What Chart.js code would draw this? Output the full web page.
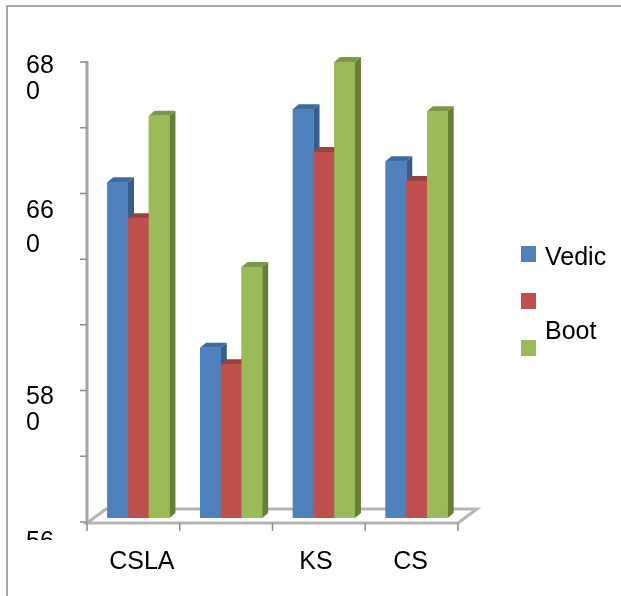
<!DOCTYPE html>
<html>
<head>
<meta charset="utf-8">
<title>Chart</title>
<script src="https://cdn.jsdelivr.net/npm/chart.js@4/dist/chart.umd.min.js"></script>
<style>
    html, body { margin: 0; padding: 0; background: #fff; }
    canvas { display: block; }
</style>
</head>
<body>
<canvas id="barChart" width="621" height="596"></canvas>
<script>
const categories = ['CSLA', '', 'KS', 'CS'];
const seriesNames = ['Vedic', '', 'Boot'];
const vedic = [661.1, 635.9, 672.2, 664.3];
const middle = [655.6, 633.4, 665.7, 661.3];
const boot = [671.2, 648.2, 679.4, 671.9];

// the picture's axis is not even: 680 and 660 are two ticks apart, so are 580 and 560,
// but 660 to 580 is only three ticks. Values are read at 10 per tick from the top.
const yTicks = [680, 670, 660, 650, 640, 630, 620, 610];
const yLabels = { 680: ['68', '0'], 660: ['66', '0'], 630: ['58', '0'], 610: ['56', '0'] };

const FONT = '25px "Liberation Sans"';
const faceColors = ['#4F81BD', '#C0504D', '#9BBB59'];
const sideColors = ['#385D8A', '#8E3B39', '#677E38'];
const topColors = ['#3E6A9E', '#9C403D', '#7B9748'];
const DEPTH_X = 6;
const DEPTH_Y = 5;

function fillPoly(ctx, pts, color) {
    ctx.fillStyle = color;
    ctx.beginPath();
    pts.forEach((p, i) => i ? ctx.lineTo(p[0], p[1]) : ctx.moveTo(p[0], p[1]));
    ctx.closePath();
    ctx.fill();
}

// frame, floor and value axis go under the bars
const backdrop = {
    id: 'backdrop',
    beforeDatasetsDraw(chart) {
        const ctx = chart.ctx;
        const x = chart.scales.x;
        const y = chart.scales.y;
        const step = x.getPixelForValue(1) - x.getPixelForValue(0);
        const left = x.getPixelForValue(0) - step / 2 - 5;
        const right = x.getPixelForValue(3) + step / 2 - 5;
        const floor = y.bottom + 5;

        ctx.save();
        ctx.strokeStyle = '#8a8a8a';
        ctx.lineWidth = 1.5;
        ctx.beginPath();
        ctx.moveTo(7, 596);
        ctx.lineTo(7, 6);
        ctx.lineTo(621, 6);
        ctx.stroke();

        // floor
        ctx.strokeStyle = '#b5b5b5';
        ctx.lineWidth = 3;
        ctx.beginPath();
        ctx.moveTo(left, floor);
        ctx.lineTo(left + 19, floor - 14);
        ctx.lineTo(right + 19, floor - 14);
        ctx.lineTo(right, floor);
        ctx.closePath();
        ctx.stroke();

        // value axis line and ticks
        ctx.strokeStyle = '#a6a6a6';
        ctx.beginPath();
        ctx.moveTo(left, y.top + 3);
        ctx.lineTo(left, floor);
        ctx.stroke();
        ctx.strokeStyle = '#8c8c8c';
        ctx.lineWidth = 1.5;
        ctx.beginPath();
        yTicks.forEach(v => {
            const py = y.getPixelForValue(v) + 4;
            ctx.moveTo(left - 7, py);
            ctx.lineTo(left, py);
        });
        for (let i = 0; i <= categories.length; i++) {
            const px = left + i * (right - left) / categories.length;
            ctx.moveTo(px, floor);
            ctx.lineTo(px, floor + 8);
        }
        ctx.stroke();
        ctx.restore();
    }
};

// Chart.js paints the first dataset last, so redo faces left to right with depth behind them
const bars3d = {
    id: 'bars3d',
    afterDatasetsDraw(chart) {
        const ctx = chart.ctx;
        chart.data.datasets.forEach((ds, d) => {
            chart.getDatasetMeta(d).data.forEach(bar => {
                const p = bar.getProps(['x', 'y', 'base', 'width'], true);
                const l = p.x - p.width / 2;
                const r = p.x + p.width / 2;
                fillPoly(ctx, [[r, p.y], [r + DEPTH_X, p.y - DEPTH_Y], [r + DEPTH_X, p.base - DEPTH_Y], [r, p.base]], sideColors[d]);
                fillPoly(ctx, [[l, p.y], [l + DEPTH_X, p.y - DEPTH_Y], [r + DEPTH_X, p.y - DEPTH_Y], [r, p.y]], topColors[d]);
                bar.draw(ctx);
            });
        });
    }
};

// text that has to sit off the tick: wrapped value labels, shifted category labels, legend
const labels = {
    id: 'labels',
    afterDraw(chart) {
        const ctx = chart.ctx;
        const x = chart.scales.x;
        const y = chart.scales.y;
        ctx.save();
        ctx.font = FONT;
        ctx.fillStyle = '#000';
        ctx.textBaseline = 'alphabetic';

        const baselines = { 680: [15, 41], 660: [29, 63], 630: [17, 43], 610: [31, 60] };
        ctx.save();
        ctx.beginPath();
        ctx.rect(0, 0, 621, 540);
        ctx.clip();
        Object.keys(yLabels).forEach(v => {
            yLabels[v].forEach((line, i) => {
                ctx.fillText(line, 26, y.getPixelForValue(+v) + baselines[v][i]);
            });
        });
        ctx.restore();

        const shifts = [3.5, 0, -8, -6];
        ctx.textAlign = 'center';
        categories.forEach((c, i) => {
            ctx.fillText(c, x.getPixelForValue(i) + shifts[i], 569);
        });

        // legend
        ctx.textAlign = 'left';
        const boxY = [246, 293, 340];
        const textY = [265, 0, 339];
        seriesNames.forEach((name, i) => {
            ctx.fillStyle = faceColors[i];
            ctx.fillRect(521, boxY[i], 15, 16);
            ctx.fillStyle = '#000';
            if (name) ctx.fillText(name, 545, textY[i]);
        });
        ctx.restore();
    }
};

new Chart(document.getElementById('barChart').getContext('2d'), {
    type: 'bar',
    data: {
        labels: categories,
        datasets: [
            { label: seriesNames[0], data: vedic, backgroundColor: faceColors[0] },
            { label: seriesNames[1], data: middle, backgroundColor: faceColors[1] },
            { label: seriesNames[2], data: boot, backgroundColor: faceColors[2] }
        ]
    },
    options: {
        responsive: false,
        animation: false,
        layout: { padding: { left: 92, right: 158, top: 58, bottom: 78 } },
        datasets: { bar: { barPercentage: 1, categoryPercentage: 0.67, base: yTicks[yTicks.length - 1] } },
        plugins: { legend: { display: false }, tooltip: { enabled: false } },
        scales: {
            x: { display: false },
            y: { display: false, min: 610, max: 680 }
        }
    },
    plugins: [backdrop, bars3d, labels]
});
</script>
</body>
</html>
